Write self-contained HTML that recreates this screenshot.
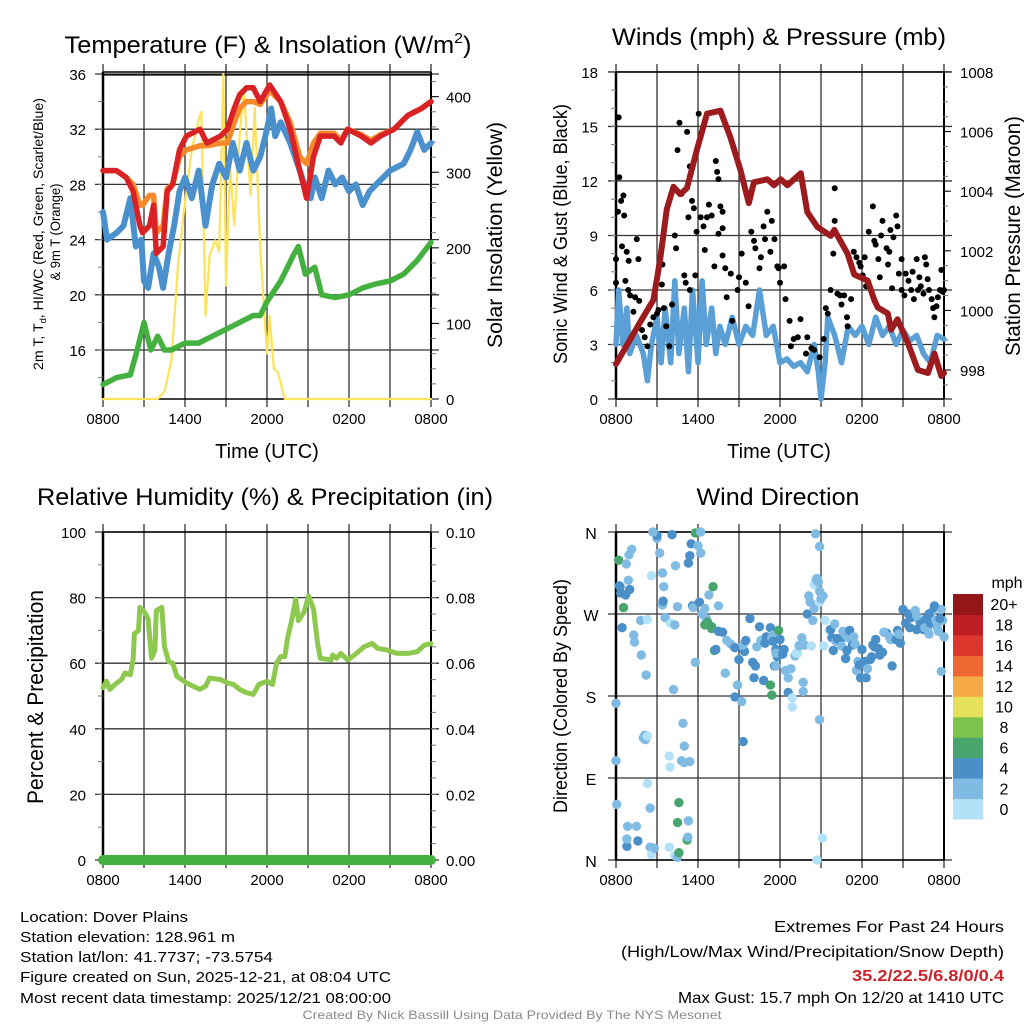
<!DOCTYPE html>
<html><head><meta charset="utf-8"><style>
html,body{margin:0;padding:0;background:#fff;}
svg{display:block;font-family:"Liberation Sans",sans-serif;}
</style></head><body>
<svg id="root" width="1024" height="1024" viewBox="0 0 1024 1024" xmlns="http://www.w3.org/2000/svg">
<g id="g"></g>
<text x="268" y="53" font-size="24" text-anchor="middle" textLength="407" lengthAdjust="spacingAndGlyphs">Temperature (F) &amp; Insolation (W/m<tspan font-size="15" dy="-10">2</tspan><tspan dy="10">)</tspan></text>
<text x="779" y="45" font-size="24" text-anchor="middle" textLength="334" lengthAdjust="spacingAndGlyphs">Winds (mph) &amp; Pressure (mb)</text>
<text x="265" y="505" font-size="24" text-anchor="middle" textLength="456" lengthAdjust="spacingAndGlyphs">Relative Humidity (%) &amp; Precipitation (in)</text>
<text x="778" y="505" font-size="24" text-anchor="middle" textLength="163" lengthAdjust="spacingAndGlyphs">Wind Direction</text>
<text transform="translate(43,234) rotate(-90)" font-size="14" text-anchor="middle" textLength="272" lengthAdjust="spacingAndGlyphs">2m T, T<tspan font-size="9" dy="3">d</tspan><tspan dy="-3">, HI/WC (Red, Green, Scarlet/Blue)</tspan></text>
<text transform="translate(60,232) rotate(-90)" font-size="14" text-anchor="middle" textLength="97" lengthAdjust="spacingAndGlyphs">&amp; 9m T (Orange)</text>
<text transform="translate(502,235) rotate(-90)" font-size="21" text-anchor="middle" textLength="226" lengthAdjust="spacingAndGlyphs">Solar Insolation (Yellow)</text>
<text transform="translate(567,234) rotate(-90)" font-size="19" text-anchor="middle" textLength="260" lengthAdjust="spacingAndGlyphs">Sonic Wind &amp; Gust (Blue, Black)</text>
<text transform="translate(1020,236) rotate(-90)" font-size="21" text-anchor="middle" textLength="240" lengthAdjust="spacingAndGlyphs">Station Pressure (Maroon)</text>
<text transform="translate(43,697) rotate(-90)" font-size="22" text-anchor="middle" textLength="214" lengthAdjust="spacingAndGlyphs">Percent &amp; Precipitation</text>
<text transform="translate(567,696) rotate(-90)" font-size="19" text-anchor="middle" textLength="234" lengthAdjust="spacingAndGlyphs">Direction (Colored By Speed)</text>
<text x="267" y="458" font-size="20" text-anchor="middle">Time (UTC)</text>
<text x="779" y="458" font-size="20" text-anchor="middle">Time (UTC)</text>
<g font-size="15">
<text x="20" y="922" textLength="168" lengthAdjust="spacingAndGlyphs">Location: Dover Plains</text>
<text x="20" y="942" textLength="215" lengthAdjust="spacingAndGlyphs">Station elevation: 128.961 m</text>
<text x="20" y="962" textLength="253" lengthAdjust="spacingAndGlyphs">Station lat/lon: 41.7737; -73.5754</text>
<text x="20" y="982" textLength="371" lengthAdjust="spacingAndGlyphs">Figure created on Sun, 2025-12-21, at 08:04 UTC</text>
<text x="20" y="1003" textLength="371" lengthAdjust="spacingAndGlyphs">Most recent data timestamp: 2025/12/21 08:00:00</text>
</g>
<g font-size="16" text-anchor="end">
<text x="1004" y="932" textLength="230" lengthAdjust="spacingAndGlyphs">Extremes For Past 24 Hours</text>
<text x="1004" y="957" textLength="383" lengthAdjust="spacingAndGlyphs">(High/Low/Max Wind/Precipitation/Snow Depth)</text>
<text x="1004" y="981" font-weight="bold" fill="#cc2229" textLength="152" lengthAdjust="spacingAndGlyphs">35.2/22.5/6.8/0/0.4</text>
<text x="1004" y="1003" textLength="326" lengthAdjust="spacingAndGlyphs">Max Gust: 15.7 mph On 12/20 at 1410 UTC</text>
</g>
<text x="512" y="1019" font-size="12" fill="#8a8a8a" text-anchor="middle" textLength="419" lengthAdjust="spacingAndGlyphs">Created By Nick Bassill Using Data Provided By The NYS Mesonet</text>
</svg>
<script>
const xTickLabels = ["0800","1400","2000","0200","0800"];
const tempTicks = [16,20,24,28,32,36];
const solarTicks = [0,100,200,300,400];
const windTicks = [0,3,6,9,12,15,18];
const presTicks = [998,1000,1002,1004,1006,1008];
const rhTicks = [0,20,40,60,80,100];
const precipTickLabels = ["0.00","0.02","0.04","0.06","0.08","0.10"];
const dirLabels = ["N","E","S","W","N"];
const speedBinLabels = ["0","2","4","6","8","10","12","14","16","18","20+"];
const speedBinColors = ["#b3e1f7","#80bbe4","#4a8fc7","#48a56d","#7dc24a","#e6e15a","#f6a947","#ef6731","#de352c","#c01e25","#931719"];

const tempHours = [0,0.98,1.7,2.2,2.7,2.9,3.4,3.7,3.9,4.4,4.7,5.1,5.6,6.1,7.1,7.6,8.6,9.1,9.6,10,10.5,11,11.5,12.2,13,13.7,14.4,14.9,15.4,15.9,16.9,17.4,17.9,18.9,19.6,20.3,21.3,22.3,23.3,24];
const tempRed =   [29.0,29,28.5,27.5,25,24.5,25,26.5,23,23.5,27.5,28,30.5,31.5,32,31,31.5,32,33.5,34.5,35,35,34,35.2,34,32,29,27,30,31.5,31.5,31,32,31.5,31,31.5,32,33,33.5,34];
const tempOrange= [29.0,29,28.5,28,26.5,26.5,27.2,27.2,24.5,25,27.7,28,30,30.5,30.8,30.8,31,31,32.5,33.5,34,34,33.8,34.8,34,32.5,30,29.5,31,31.7,31.7,31.2,32,31.6,31.2,31.6,32,33,33.5,34];
const dewHours = [0,0.3,1,1.5,2,2.4,2.8,3,3.3,3.7,4.1,4.4,4.8,5.2,5.6,6,6.5,7,7.5,8,8.5,9,9.5,10,10.5,11,11.5,12,12.3,12.6,13,13.7,14.4,14.9,15.2,15.5,16,16.5,17,17.5,18,18.5,19,19.5,20,21,22,22.5,23,23.5,24];
const dewBlue = [26,24,24.5,25,27,23.5,24,21,20.5,23,22,20.5,23,25,27.5,28.5,27,29,25,28,29.5,28.5,31,29,31,29,30,32,33.5,31.5,32.5,31,29,27.5,27,28.5,27,29,28,28.5,27.5,28,26.5,27.5,28,29,29.5,30.5,31.8,30.5,31];
const greenHours = [0,1,2,2.5,3,3.5,4,4.5,5,6,7,8,9,10,11,11.5,12,13,14,14.3,14.8,15.5,16,17,18,19,20,21,22,23,24];
const greenTd = [13.5,14,14.2,16,18,16,17,16,16,16.5,16.5,17,17.5,18,18.5,18.5,19.5,21,23,23.5,21.5,22,20,19.8,20,20.5,20.8,21,21.5,22.5,23.8];
const solarHours = [0,4,4.5,5,5.5,6,6.5,7,7.2,7.5,7.8,8.2,8.5,8.8,9,9.3,9.6,10,10.3,10.8,11.1,11.5,12,12.2,12.5,12.8,13.3,24];
const solarVals = [0,0,10,50,180,260,330,370,380,110,190,210,195,430,150,310,230,350,410,270,385,200,60,110,40,35,0,0];

const presHours = [0,1.76,2.74,3.23,3.72,4.21,4.7,5.19,5.93,6.66,7.64,8.38,9.11,9.72,10.09,11.07,11.56,12.05,12.54,13.52,14.0,14.74,15.72,15.97,16.95,17.44,17.93,18.42,18.9,19.15,19.89,20.13,20.6,21.36,22.09,22.82,23.3,23.8,24];
const presVals = [998.2,999.6,1000.35,1001.7,1003.4,1004.15,1003.9,1004.1,1005.4,1006.6,1006.7,1005.8,1004.7,1003.6,1004.3,1004.4,1004.2,1004.4,1004.2,1004.6,1003.3,1002.8,1002.5,1002.7,1001.9,1001.2,1001.1,1001,1000.35,1000.1,999.9,999.35,999.7,998.9,998,997.9,998.55,997.8,997.9];
const windHours = [0,0.2,0.5,0.8,1,1.5,2,2.3,2.6,3,3.3,3.6,4,4.3,4.6,5,5.3,5.6,6,6.3,6.6,7,7.3,7.6,8,8.5,9,9.5,10,10.5,11,11.5,12,12.5,13,13.5,14,14.5,14.8,15,15.3,15.5,16,16.5,17,17.5,18,18.5,19,19.5,20,20.5,21,21.5,22,22.5,23,23.5,24];
const windVals = [3,6,3,5,2.5,3.5,2.5,1,3,4.5,2,5,2,6.5,2.5,5,1.5,6,2,6.5,3,5,2.5,4,3,4.5,3,4,3.5,6,3.5,4,2,2.2,1.8,2,1.5,3,1.5,0,2,4.5,3.5,2,4,3.5,4,3,4.5,3.5,4,3,3.8,3.2,3.5,2.5,2,3.5,3.3];
const gustHours = [0,0,0.2,0.24,0.15,0.37,0.54,0.6,0.44,0.78,1.52,0.93,1.64,0.69,0.9,1.03,1.4,1.7,1.27,1.9,2.1,2.3,2.5,2.74,3,3.1,3.4,3.36,3.5,3.67,3.9,4.1,4.3,4.4,4.5,4.65,4.8,5.2,5.4,5.56,5.7,5.3,5,5.1,5.4,5.8,5.9,6.05,6.2,6.5,6.4,6.66,6.8,7,7.3,7.4,7.5,7.64,7.8,7.5,7.8,7.8,7.2,8,8.1,8.4,8.5,8.9,9,9.2,9.5,9.7,9.9,10.1,10.2,10.5,10.6,10.8,10.9,11.07,11.3,11.4,11.6,11.8,11.9,12,12.3,12.4,12.7,12.8,13,13.3,13.5,13.9,14,14.3,14.5,14.9,15.2,15.35,15.5,15.7,15.9,16,16,16.2,16.4,16.5,16.7,16.9,16.95,17.2,17.4,17.6,17.8,17.9,18.05,18.2,18.3,18.5,18.8,18.9,19,19.2,19.3,19.4,19.5,19.8,19.9,20,20.08,20.2,20.3,20.5,20.6,20.7,20.9,20.9,21.1,21.2,21.4,21.6,21.7,21.8,22,22.1,22.2,22.3,22.5,22.6,22.7,22.8,22.9,23.1,23.2,23.3,23.45,23.55,23.7,23.8,23.9,24];
const gustVals = [7.7,6.4,15.5,12.2,10.3,10.9,11.2,10.1,8.4,8.1,8.8,7.6,7.7,6.5,6,5.7,5.6,5.4,4.8,3.8,3.4,2.9,4.1,4.5,4.7,4.9,7.4,6.3,5,4,2.9,5.2,9,8.3,13.7,15.2,11.3,14.7,12.8,10.9,10.5,10,6.8,6.4,6,6.8,9.2,15.7,10,8.2,9.5,10,10.7,10.1,13.1,12.5,12.1,10.6,10.3,9.1,9.4,7.9,7.3,7.2,5.6,6.9,4.3,6,6.7,8,6.4,5.1,9.2,8.7,8.3,7.2,7.8,9.5,8.8,10.3,8.1,9.8,8.8,7.3,7.2,6.4,7.3,5.5,4.3,2.9,3.3,3.4,4.4,2.5,3.4,2.8,2.7,2.3,3.3,5,4.7,6,8,9.8,11.6,5.8,5.7,5.2,5.7,4.5,4,5.5,8.1,7.8,7.5,7.3,6.8,7.8,6.2,9.2,10.6,8.7,8.5,7.7,6.7,9,9.8,8.3,7.4,8.1,9.3,6.1,8.9,10.1,9.5,6.9,6,7.7,5.7,6.9,6.5,6,7,5.5,7.7,6,6.7,6.2,5.8,7.8,7.4,6.6,6,5.5,5,4.5,5.1,5.6,6,7.1,5.9,6];

const rhHours = [0,0.25,0.5,1,1.35,1.6,2,2.2,2.3,2.6,2.7,3.05,3.3,3.55,3.8,3.9,4.3,4.5,4.8,5.1,5.4,5.75,6.1,6.6,7.1,7.5,7.8,8.6,9.1,9.55,10,10.5,11,11.4,12,12.4,12.7,13,13.3,13.5,13.8,14.1,14.3,14.7,15.05,15.4,15.7,15.9,16.7,16.8,17.1,17.4,17.9,18.4,19.1,19.7,20.1,20.8,21.5,22.3,23,23.5,24];
const rhVals = [52.5,54.5,52,54,55,57,56.5,61,69,70,77,75.5,73.5,61.5,64,76,77,65,60.5,60,56,55,54,53,52,53,55.5,55,54,53.5,52,51,50.5,53.5,54.5,53.5,60,62,62,67.5,73,79.5,73,75.5,80.5,76.5,66,61.5,61,62.5,61.5,63,61,62.5,65,66,64.5,64,63,63,63.5,65.5,66];
const precipHours = [0,24];
const precipVals = [0,0];

const dirHours = [0,0,0.05,0.2,0.3,0.25,0.35,0.55,0.45,0.7,0.75,0.95,0.9,1.0,1.15,1.3,1.35,1.8,1.85,0.8,0.8,0.85,1.5,1.6,2.2,2.0,2.1,2.15,2.3,2.3,2.5,2.6,2.3,2.5,2.6,2.8,3.0,3.0,2.7,3.2,3.4,3.4,3.45,3.6,3.5,4.1,4.35,4.2,4.0,4.3,4.5,3.9,3.95,3.9,4.3,4.5,4.6,4.5,4.6,4.8,4.9,5.0,5.0,5.2,5.25,5.3,5.4,5.4,5.5,5.3,5.6,5.65,5.8,5.8,6.0,6.1,6.2,6.2,6.3,6.5,6.6,6.7,6.5,7.0,7.1,7.0,6.8,7.2,7.3,7.5,7.5,7.8,8.1,8.0,8.4,8.7,8.7,8.9,9.0,9.2,9.3,9.4,9.3,9.5,9.8,10.0,10.1,10.2,10.3,10.5,10.6,10.8,10.9,11.0,11.3,11.4,11.5,11.6,11.7,11.8,11.7,11.3,11.4,11.5,11.7,11.9,12.0,12.2,12.3,12.4,12.6,12.6,12.8,12.9,12.9,13.1,13.2,13.4,13.6,13.3,13.4,13.7,13.7,13.8,14.0,14.2,14.3,14.4,14.1,14.5,14.5,14.65,14.7,14.9,14.6,14.8,14.9,14.9,15.0,15.15,15.3,15.2,14.9,15.1,14.7,15.6,15.7,15.8,16.0,16.1,16.2,15.9,16.4,16.6,16.5,16.8,16.9,16.8,17.0,17.1,17.3,17.4,17.5,17.7,17.6,17.8,17.9,18.0,18.2,18.3,18.4,18.6,18.7,18.8,18.9,19.2,19.0,19.3,19.5,19.8,19.6,20.0,20.1,20.2,20.5,20.6,20.7,20.8,21.0,21.2,21.4,21.5,21.6,21.8,22.0,22.2,22.3,22.5,22.6,22.7,22.8,22.9,23.0,23.1,23.3,23.5,23.4,23.6,23.8,23.8,23.9,24.0,23.7,22.9,22.0,21.9,23.3];
const dirDeg = [172,109,61,329,300,301,293,277,255,291,325,335,307,297,341,247,239,263,225,15,23,37,37,21,203,134,137,132,136,84,57,312,264,14,6,13,353,356,360,337,315,280,284,266,300,357,323,187,260,258,278,114,102,14,5,3,8,41,63,109,150,125,107,22,25,43,108,334,347,326,279,277,217,359,345,283,337,360,270,258,265,261,276,254,300,256,291,230,231,251,279,250,241,205,237,233,179,192,220,174,130,229,236,241,265,217,200,213,234,256,241,197,238,245,255,244,247,213,213,223,231,192,181,240,227,252,242,226,231,208,184,200,210,178,168,224,227,236,244,227,235,195,185,236,270,283,235,263,290,276,302,308,309,344,358,305,295,283,287,290,263,235,154,24,0,252,253,244,259,240,243,230,240,251,235,247,230,221,244,252,236,245,237,218,208,214,200,231,218,200,210,220,223,236,234,232,242,225,228,249,250,245,242,213,242,252,248,238,275,260,270,255,266,268,253,262,260,253,255,265,255,248,260,272,277,255,263,251,275,207,263,245,265,270,268,274,279];
const dirSpeed = [3,3,3,7,5,5,5,7,5,5,3,3,3,5,3,3,3,3,3,5,3,3,3,5,3,3,3,3,1,1,3,1,1,3,1,3,3,5,3,3,3,3,5,3,3,5,3,3,1,3,3,1,1,1,1,3,7,7,7,3,3,3,3,7,3,3,3,5,5,5,5,3,3,7,3,5,3,3,3,7,3,7,3,7,7,7,3,7,5,5,3,5,3,3,3,5,5,3,5,3,5,5,3,5,5,5,5,5,3,5,3,5,5,5,5,3,3,5,3,5,5,7,7,5,3,7,5,5,5,3,5,3,3,1,1,3,1,1,3,1,3,3,3,3,5,3,1,3,3,3,1,3,3,3,3,3,3,1,3,3,1,1,3,1,1,1,5,5,3,3,5,5,5,3,3,3,5,5,3,5,5,3,3,3,3,5,5,5,5,5,3,5,5,5,5,5,5,5,5,5,3,3,3,5,5,5,3,5,5,5,5,5,5,5,5,3,5,5,3,5,3,3,5,3,5,3,3,3,3,3,3,3,5,5,3,3,5,5,5,3];

const NS = "http://www.w3.org/2000/svg";
const G = document.getElementById("g");
const L0=103, L1=431, R0=616, R1=943, PW=328;
const xL = h => L0 + h*PW/24;
const xR = h => R0 + h*PW/24;
const yT = v => 399 - (v-12.45)*13.8;
const yS = v => 399 - v*0.7558;
const yW = v => 399 - v*18.17;
const yP = p => 370 - (p-998)*29.8;
const yR = v => 860 - v*3.28;
const yD = d => 860 - d*(328/360);

function mk(tag, attrs, parent){
  const el = document.createElementNS(NS, tag);
  for (const k in attrs) el.setAttribute(k, attrs[k]);
  (parent||G).appendChild(el);
  return el;
}
function txt(x,y,s,size,anchor,name){
  const t = mk("text",{x:x,y:y,"font-size":size,"text-anchor":anchor});
  t.textContent = s;
  
  
  return t;
}
function lineOf(xs, ys, xf, yf, color, w, name){
  let d = "";
  for (let i=0;i<xs.length;i++) d += (i?"L":"M") + xf(xs[i]).toFixed(1) + "," + yf(ys[i]).toFixed(1);
  const p = mk("path",{d:d,fill:"none",stroke:color,"stroke-width":w,"stroke-linejoin":"round","stroke-linecap":"round"});
  
  
  return p;
}
function panel(x0, yTop, yBot, hTicksY, name){
  const grp = mk("g",{});
  
  
  for (let i=0;i<=8;i++){
    const x = x0 + i*PW/8;
    mk("line",{x1:x,y1:yTop-8,x2:x,y2:yBot+8,stroke:"#333","stroke-width":1.3},grp);
  }
  hTicksY.forEach(y=>{ mk("line",{x1:x0-8,y1:y,x2:x0+PW+8,y2:y,stroke:"#333","stroke-width":1.3},grp); });
  mk("line",{x1:x0,y1:yTop,x2:x0,y2:yBot,stroke:"#000","stroke-width":2.5},grp);
  mk("line",{x1:x0+PW,y1:yTop,x2:x0+PW,y2:yBot,stroke:"#000","stroke-width":2},grp);
  mk("line",{x1:x0,y1:yTop,x2:x0+PW,y2:yTop,stroke:"#000","stroke-width":1.5},grp);
  mk("line",{x1:x0,y1:yBot,x2:x0+PW,y2:yBot,stroke:"#000","stroke-width":1.5},grp);
  xTickLabels.forEach((s,i)=>{ txt(x0+i*PW/4, yBot+25, s, 15, "middle", "x-tick-label"); });
  return grp;
}
function minorTicks(x, y0, y1, step, dir){
  for (let y=y0; y>=y1-0.1; y-=step) mk("line",{x1:x,y1:y,x2:x+dir*5,y2:y,stroke:"#777","stroke-width":1});
}

panel(L0, 72, 399, tempTicks.map(yT), "temperature-panel");
mk("line",{x1:L0,y1:75,x2:L1,y2:75,stroke:"#000","stroke-width":1.2});
minorTicks(L0, yT(14), 80, 13.8*2, -1);
minorTicks(L1, yS(20), 76, 0.7558*20, 1);
tempTicks.forEach(v=>txt(86, yT(v)+6, String(v), 15, "end", "temperature-tick-label"));
solarTicks.forEach(v=>{ mk("line",{x1:L1,y1:yS(v),x2:L1+8,y2:yS(v),stroke:"#000"}); txt(446, yS(v)+6, String(v), 15, "start", "solar-tick-label"); });
lineOf(solarHours, solarVals, xL, yS, "#fde35a", 2.2, "solar-insolation-line");
lineOf(greenHours, greenTd, xL, yT, "#44b040", 5.5, "dewpoint-line");
lineOf(dewHours, dewBlue, xL, yT, "#4a90cc", 6, "heat-index-wind-chill-line");
lineOf(tempHours, tempOrange, xL, yT, "#f58a2c", 5.5, "temperature-9m-line");
lineOf(tempHours, tempRed, xL, yT, "#d92226", 5.5, "temperature-2m-line");

panel(R0, 72, 399, windTicks.map(yW), "winds-panel");
minorTicks(R0, yW(1), 73, 18.17, -1);
minorTicks(R1, yP(997.5), 73, 29.8/2, 1);
windTicks.forEach(v=>txt(598, yW(v)+6, String(v), 15, "end", "wind-tick-label"));
presTicks.forEach(v=>{ mk("line",{x1:R1,y1:yP(v),x2:R1+8,y2:yP(v),stroke:"#000"}); txt(960, yP(v)+6, String(v), 15, "start", "pressure-tick-label"); });
lineOf(windHours, windVals, xR, yW, "#5a9fd6", 5.5, "sonic-wind-line");
gustHours.forEach((h,i)=>{
  const c = mk("circle",{cx:xR(h).toFixed(1),cy:yW(gustVals[i]).toFixed(1),r:3,fill:"#000"});
  
  
});
lineOf(presHours, presVals, xR, yP, "#9b1b1e", 6, "station-pressure-line");

panel(L0, 532, 860, rhTicks.map(yR), "humidity-panel");
minorTicks(L0, yR(10), 535, 32.8, -1);
minorTicks(L1, yR(5), 535, 16.4, 1);
rhTicks.forEach(v=>txt(86, yR(v)+6, String(v), 15, "end", "humidity-tick-label"));
precipTickLabels.forEach((s,i)=>txt(446, yR(rhTicks[i])+6, s, 15, "start", "precip-tick-label"));
lineOf(rhHours, rhVals, xL, yR, "#8dc84f", 5, "relative-humidity-line");
lineOf(precipHours, precipVals.map(v=>v*1000), xL, yR, "#44b040", 10, "precipitation-line");

panel(R0, 532, 860, [0,90,180,270,360].map(yD), "wind-direction-panel");
dirLabels.forEach((s,i)=>txt(591, yD(i*90)+7, s, 16, "middle", "direction-tick-label"));
dirHours.forEach((h,i)=>{
  const c = mk("circle",{cx:xR(h).toFixed(1),cy:yD(dirDeg[i]).toFixed(1),r:4.7,fill:speedBinColors[Math.min(10,Math.floor(dirSpeed[i]/2))]});
  
  
});

const lg = mk("g",{});


const cbTop=594, cbH=225/11;
speedBinColors.forEach((c,i)=>{
  const y = cbTop + (10-i)*cbH;
  const r = mk("rect",{x:953,y:y.toFixed(1),width:30,height:(cbH+0.5).toFixed(1),fill:c},lg);
  
  
  txt(1004, y+cbH/2+6, speedBinLabels[i], 16, "middle", "colorbar-label");
});
txt(1007, 588, "mph", 16, "middle", "colorbar-title");
</script>
</body></html>
